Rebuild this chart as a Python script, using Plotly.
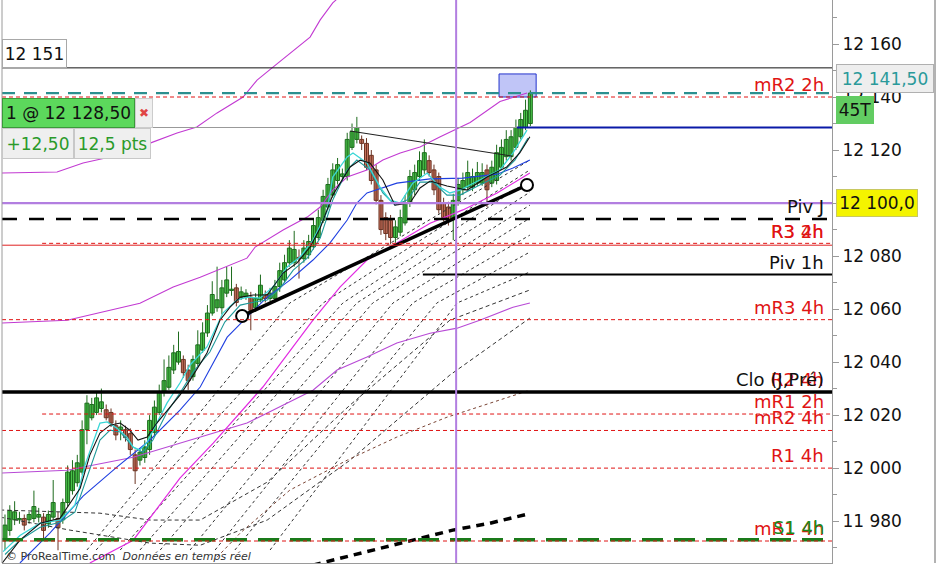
import plotly.graph_objects as go

# ---- candles (one per bar) ----
opens = [11973, 11976.5, 11980.5, 11980.5, 11981, 11980.5, 11981, 11981.5, 11981.5, 11979,
         11981.5, 11981, 11980.5, 11987, 11991.5, 11994.5, 11998.5, 12014.5, 12019, 12021,
         12022.5, 12022, 12021, 12016, 12014.5, 12014.5, 12013, 12005, 12003, 12004,
         12007, 12013.5, 12021, 12028.5, 12030.5, 12037, 12040, 12041, 12037, 12034.5,
         12039.5, 12044.5, 12051, 12058.5, 12060.5, 12060.5, 12066, 12067, 12068, 12064.5,
         12064.5, 12064.5, 12060.5, 12063.5, 12065.5, 12064, 12064, 12068.5, 12071, 12077.5,
         12077.5, 12079.5, 12079, 12080.5, 12083.5, 12087, 12093.5, 12098.5, 12103, 12108.5,
         12110, 12110, 12121, 12124, 12124, 12122.5, 12118, 12112.5, 12101, 12094.5,
         12093.5, 12087, 12089, 12092.5, 12100, 12105, 12110, 12112.5, 12116, 12112.5,
         12110, 12100, 12098.5, 12094.5, 12101, 12105, 12106, 12106, 12107.5, 12107.5,
         12112.5, 12107.5, 12108.5, 12113.5, 12117.5, 12117.5, 12121, 12125, 12128.5, 12130]
highs = [11982.5, 11986, 11987.5, 11983.5, 11982.5, 11983.5, 11991.5, 11985, 11983, 11984,
         11995.5, 11983.5, 11988.5, 12001, 12003, 12005, 12018, 12027.5, 12026.5, 12028.5,
         12030, 12024, 12022.5, 12018, 12018, 12016, 12015, 12007, 12007.5, 12010.5,
         12020, 12025.5, 12031.5, 12041, 12042.5, 12046.5, 12051.5, 12042.5, 12039, 12042.5,
         12052, 12055, 12061.5, 12070.5, 12076, 12071, 12076, 12076, 12069.5, 12068.5,
         12067.5, 12066.5, 12066, 12073, 12067, 12068, 12071, 12077.5, 12080.5, 12086,
         12089.5, 12082.5, 12086, 12088, 12094, 12097.5, 12105, 12109.5, 12115, 12117,
         12113, 12126.5, 12130, 12132.5, 12125.5, 12124.5, 12120, 12114.5, 12103, 12096.5,
         12095.5, 12093.5, 12097.5, 12103, 12112.5, 12114.5, 12119.5, 12124, 12118, 12114.5,
         12111.5, 12102, 12100.5, 12103.5, 12109.5, 12111.5, 12116, 12113, 12115.5, 12115,
         12114.5, 12116, 12122, 12124, 12127.5, 12127.5, 12131.5, 12134, 12139, 12142.5]
lows = [11969, 11974.5, 11978.5, 11979, 11976.5, 11979, 11979.5, 11979.5, 11973, 11977.5,
        11980.5, 11969, 11979, 11985.5, 11990, 11993, 11997.5, 12009, 12018, 12020,
        12021, 12018, 12015.5, 12010.5, 12010.5, 12010, 12005, 11994, 12001, 12002,
        12005, 12012, 12020, 12027, 12029.5, 12035.5, 12039, 12034, 12029.5, 12033,
        12038.5, 12043.5, 12049.5, 12057.5, 12059, 12058, 12064.5, 12065, 12061, 12063.5,
        12063.5, 12052, 12059, 12062.5, 12062.5, 12063, 12062.5, 12066.5, 12070, 12076,
        12076, 12071.5, 12077.5, 12079, 12082.5, 12086, 12092.5, 12097.5, 12102, 12107,
        12108, 12108.5, 12120, 12122.5, 12120, 12112.5, 12107, 12099.5, 12088, 12086,
        12084.5, 12085, 12087.5, 12091.5, 12098.5, 12103, 12108.5, 12111, 12110, 12103,
        12096, 12093, 12091.5, 12086, 12099, 12103, 12105, 12104.5, 12106.5, 12106.5,
        12098.5, 12106, 12107, 12112.5, 12116, 12116, 12120, 12124, 12127.5, 12129]
closes = [11978.5, 11984, 11983.5, 11981, 11978.5, 11982.5, 11985.5, 11982.5, 11976.5, 11982.5,
          11987, 11977.5, 11987, 11998.5, 11999, 12002, 12014.5, 12024.5, 12024, 12026.5,
          12025, 12019, 12017, 12012.5, 12015.5, 12011.5, 12007, 11999, 12006, 12008,
          12018, 12023, 12028.5, 12033, 12038, 12043.5, 12044, 12036, 12033, 12041,
          12046.5, 12051, 12058.5, 12065.5, 12063.5, 12068, 12071, 12067.5, 12062.5, 12066.5,
          12066, 12059.5, 12064, 12069, 12064, 12066, 12068.5, 12074.5, 12077.5, 12083,
          12082.5, 12079, 12083, 12085.5, 12091.5, 12094.5, 12102.5, 12107, 12112.5, 12114.5,
          12111, 12124, 12127, 12128.5, 12122.5, 12113.5, 12108.5, 12101, 12090, 12088.5,
          12087, 12091, 12094.5, 12100, 12110, 12111.5, 12116, 12119, 12111.5, 12105,
          12097.5, 12094.5, 12093.5, 12101, 12107, 12108.5, 12111.5, 12110, 12111.5, 12111.5,
          12105, 12113.5, 12119, 12121, 12124, 12125, 12128.5, 12131.5, 12135, 12141.5]
bars = list(range(len(closes)))

# ---- indicator curves as (bar, price) ----
band_top_x = [-1.0, 10.8, 16.2, 21.8, 30.1, 35.7, 39.8, 44.0, 49.4, 52.3, 55.6, 59.1, 63.3, 65.4, 68.0, 71.0]
band_top_y = [12111.3, 12111.7, 12115.1, 12117.4, 12122.6, 12126.4, 12128.7, 12134, 12140, 12146.4,
              12151.3, 12156.6, 12162.6, 12169.1, 12175.5, 12180.5]
band_mid_x = [-1.0, 12.9, 28.0, 34.9, 40.5, 45.2, 50.2, 51.9, 57.7, 62.7, 65.4, 68.0, 71.0, 75.1,
              78.4, 82.0, 86.1, 90.2, 96.5, 102.7, 108.3]
band_mid_y = [12054.7, 12055.8, 12062.2, 12068.3, 12072, 12075.5, 12079.2, 12083.4, 12089.8, 12094.7,
              12098.5, 12104.9, 12109.8, 12112.5, 12116.2, 12118.9, 12121.1, 12124.9, 12130.4, 12138.3, 12141.5]
band_low_x = [-1.0, 12.9, 26.6, 36.3, 50.2, 63.9, 68.9, 75.1, 81.3, 88.2, 93.8, 98.5, 105.4, 108.9]
band_low_y = [11998.1, 11999.2, 12004.1, 12009.4, 12017, 12029.4, 12037, 12041.9, 12047.2, 12050.9,
              12052.8, 12055.8, 12060.7, 12062.3]
magenta_x = [17.6, 26.6, 36.3, 43.2, 53.5, 63.9, 69.5, 75.1, 81.3, 88.2, 95.0, 102.1, 108.9]
magenta_y = [11964.2, 11972.8, 11996.2, 12009.4, 12030.6, 12055.8, 12068.3, 12078.5, 12084.9, 12092.4,
             12097.4, 12103.8, 12111.3]
blue_x = [3.1, 9.3, 16.2, 23.2, 30.1, 36.3, 40.5, 46.1, 50.2, 54.4, 59.1, 63.9, 67.4, 71.0, 73.0,
          75.1, 81.3, 88.2, 95.0, 102.1, 105.4, 108.9]
blue_y = [11964.2, 11975.5, 11989.4, 12000.4, 12010.6, 12021.9, 12030.6, 12049.4, 12057, 12064.5,
          12070.9, 12078.5, 12084.9, 12093.6, 12100, 12103.8, 12107.5, 12109.1, 12109.4, 12110.9,
          12113.2, 12116.2]
black_ma_x = [-1.0, 3.1, 7.3, 11.4, 15.6, 17.6, 19.7, 21.8, 23.9, 25.9, 27.6, 29.5, 31.5, 34.2, 36.3,
              38.4, 41.9, 44.6, 46.7, 48.8, 51.5, 54.4, 55.6, 57.7, 60.6, 63.3, 65.4, 68.0, 71.6, 73.7,
              75.7, 78.4, 80.9, 84.0, 86.1, 88.2, 91.7, 95.9, 100.0, 104.1, 106.8, 108.9]
black_ma_y = [11963.2, 11972.8, 11979.2, 11981.1, 11992.4, 12004.9, 12013.2, 12016.2, 12017, 12014.3,
              12010.6, 12011.7, 12017, 12023, 12027.5, 12033.2, 12043.4, 12055.8, 12060.7, 12064.5,
              12065.3, 12065.3, 12068.3, 12073.6, 12077.4, 12083.4, 12090.6, 12103, 12113.6, 12116.2,
              12115.1, 12108.7, 12099.2, 12100, 12105.7, 12108.3, 12106.4, 12104.9, 12109.8, 12113.6,
              12118.9, 12125]
cyan_x = [-0.4, 3.1, 7.3, 11.4, 14.5, 16.6, 19.7, 21.2, 23.2, 25.3, 26.6, 28.0, 29.5, 31.5, 33.6,
          36.3, 38.4, 41.9, 45.2, 48.1, 50.2, 52.9, 55.6, 58.5, 61.2, 63.9, 66.8, 68.0, 71.0, 72.2,
          75.1, 77.8, 79.9, 82.0, 84.6, 87.6, 90.2, 92.3, 94.4, 98.5, 102.7, 105.4, 108.3]
cyan_y = [11968.5, 11974.6, 11979.2, 11980.4, 11986, 12001.1, 12017, 12017.4, 12015.1, 12011.7,
          12007.9, 12006.8, 12009.8, 12017, 12024.5, 12032.1, 12038.9, 12045.7, 12058.5, 12063.4,
          12064.5, 12064.1, 12068.3, 12075.8, 12079.6, 12086, 12096.6, 12109.8, 12117.4, 12118.9,
          12115.1, 12106, 12101.1, 12100, 12107.5, 12111.3, 12106, 12103.8, 12104.9, 12108.7,
          12112.5, 12118.9, 12127.5]
teal_x = [0.0, 3.1, 7.3, 11.4, 14.5, 17.0, 19.7, 21.8, 23.9, 26.6, 28.6, 30.7, 33.6, 36.3, 39.0,
          42.5, 45.6, 48.8, 51.5, 54.4, 57.1, 59.8, 62.7, 65.4, 68.0, 71.0, 73.0, 75.7, 78.4, 80.9,
          83.4, 86.1, 88.8, 91.7, 94.4, 98.5, 102.7, 105.8, 108.5]
teal_y = [11967.4, 11972.8, 11977.7, 11979.6, 11983.4, 11996.2, 12010.6, 12014.3, 12013.6, 12007.9,
          12006, 12010.6, 12021.1, 12028.3, 12036.2, 12043.8, 12055.1, 12061.5, 12062.6, 12063.4,
          12067.9, 12074.7, 12079.2, 12086.8, 12101.1, 12112.5, 12116.2, 12112.5, 12103.8, 12099.2,
          12101.1, 12107.9, 12107.9, 12103, 12103, 12106.8, 12110.6, 12116.2, 12124.5]

# dotted fan of slow averages: start, middle, end
fan_x = [[17.0, 59.1, 108.9], [18.9, 66.0, 108.9], [23.9, 70.1, 108.9], [28.0, 73.0, 108.9],
         [32.2, 76.3, 108.9], [38.4, 80.5, 108.9], [43.6, 84.6, 108.9], [47.7, 89.6, 108.9],
         [55.0, 93.8, 108.9]]
fan_y = [[11969.1, 12062.3, 12116.2], [11969.1, 12062.3, 12112.5], [11969.1, 12062.3, 12108.7],
         [11969.1, 12062.3, 12104.1], [11969.1, 12062.3, 12099.2], [11969.1, 12062.3, 12094.3],
         [11969.1, 12062.3, 12087.9], [11969.1, 12062.3, 12081.5], [11969.1, 12062.3, 12074.0]]
curve_u1_x = [-1.0, 19.7, 30.1, 40.5, 54.4, 71.6, 92.3, 108.9]
curve_u1_y = [11984.2, 11983, 11980.4, 11980.4, 11994.7, 12023.8, 12055.8, 12067.2]
curve_u2_x = [-1.0, 13.5, 30.1, 40.5, 54.4, 71.6, 92.3, 108.9]
curve_u2_y = [11981.5, 11976.6, 11971.7, 11970.9, 11980.4, 12003, 12035.1, 12056.6]
brown_x = [44.0, 48.8, 59.1, 71.0, 81.3, 91.7, 108.9]
brown_y = [11966.4, 11975.5, 11991.7, 12003, 12011.7, 12019.2, 12029.4]
slow_x = [63.9, 84.6, 92.9, 100.6, 108.3]
slow_y = [11963.4, 11972.8, 11976.6, 11979.2, 11982.6]

# drawn objects
trend_x = [49.2, 108.3]
trend_y = [12057.4, 12106.8]
top_line_x = [71.6, 105.2]
top_line_y = [12127.2, 12117.7]
box_x = [102.5, 110.2]
box_y = [12140, 12148.7]
cursor_bar = 93.6

# price levels
level_151 = 12151
last_price = 12141.5
order_price = 12128.5
round_level = 12100
order_split_bar = 106.2
short_start_bar = 7.7
piv1h_start_bar = 86.7

label_texts = ["mR2 2h", "Piv J", "R3 4h", "R3 2h", "Piv 1h", "mR3 4h", "R2 4h", "Clo (J,Pré)",
               "mR1 2h", "mR2 4h", "R1 4h", "mR1 4h", "S1 4h"]
label_prices = [12140, 12094, 12084.5, 12084.5, 12073, 12056, 12028.7, 12028.7,
                12020.4, 12014.2, 12000, 11972.5, 11973]

tick_vals = [11980, 12000, 12020, 12040, 12060, 12080, 12100, 12120, 12140, 12160]
tick_text = ["11 980", "12 000", "12 020", "12 040", "12 060", "12 080", "12 100", "12 120", "12 140", "12 160"]
minor_vals = [11970, 11990, 12010, 12030, 12050, 12070, 12090, 12110, 12130, 12150, 12170]

X_MIN, X_MAX = -0.62, 171.58
Y_MIN, Y_MAX = 11964.2, 12176.6
FONT = "DejaVu Sans"
RED = "#e01414"
UP_FILL, UP_EDGE = "#4cc64c", "#1d6b1d"
DN_FILL, DN_EDGE = "#c8735f", "#6b3322"

fig = go.Figure()

# candle wicks, one trace per colour
for want_up, edge in ((True, UP_EDGE), (False, DN_EDGE)):
    wx, wy = [], []
    for i, o, h, l, c in zip(bars, opens, highs, lows, closes):
        if (c >= o) == want_up:
            wx += [i, i, None]
            wy += [l, h, None]
    fig.add_trace(go.Scatter(x=wx, y=wy, mode="lines", showlegend=False, hoverinfo="skip",
                             line=dict(color=edge, width=1)))

# candle bodies
is_up = [c >= o for o, c in zip(opens, closes)]
fig.add_trace(go.Bar(
    x=bars,
    base=[min(o, c) for o, c in zip(opens, closes)],
    y=[max(abs(c - o), 0.5) for o, c in zip(opens, closes)],
    width=0.82,
    marker=dict(color=[UP_FILL if u else DN_FILL for u in is_up],
                line=dict(color=[UP_EDGE if u else DN_EDGE for u in is_up], width=1)),
    showlegend=False, hoverinfo="skip",
))


def curve(xs, ys, color, width=1.0, dash="solid"):
    fig.add_trace(go.Scatter(x=xs, y=ys, mode="lines", showlegend=False, hoverinfo="skip",
                             line=dict(color=color, width=width, dash=dash)))


for fx, fy in zip(fan_x, fan_y):
    curve(fx, fy, "#333333", 1, "3px,3px")
curve(curve_u1_x, curve_u1_y, "#333333", 1, "4px,3px")
curve(curve_u2_x, curve_u2_y, "#333333", 1, "4px,3px")
curve(brown_x, brown_y, "#7a4434", 1, "3px,3px")
curve(slow_x, slow_y, "#000000", 3.5, "8px,6px")
curve(band_top_x, band_top_y, "#c23ad2", 1.1)
curve(band_mid_x, band_mid_y, "#c23ad2", 1.1)
curve(band_low_x, band_low_y, "#b84ad6", 1.1)
curve(magenta_x, magenta_y, "#e22ae2", 1.2)
curve(blue_x, blue_y, "#1f3fe0", 1.1)
curve(teal_x, teal_y, "#1f9a9a", 1.1)
curve(cyan_x, cyan_y, "#3ad6d6", 1.3)
curve(black_ma_x, black_ma_y, "#111111", 1.1)
curve(top_line_x, top_line_y, "#222222", 1.1)

fig.add_trace(go.Scatter(
    x=trend_x, y=trend_y, mode="lines+markers", showlegend=False, hoverinfo="skip",
    line=dict(color="#000000", width=3.5),
    marker=dict(size=12, color="white", line=dict(color="#000000", width=2)),
))

shapes = []


def hline(price, color, width=1.0, dash="solid", x0=X_MIN, x1=X_MAX):
    shapes.append(dict(type="line", xref="x", yref="y", x0=x0, x1=x1, y0=price, y1=price,
                       line=dict(color=color, width=width, dash=dash), layer="above"))


hline(level_151, "#111111", 1)
hline(last_price, "#2b8f8f", 2.2, "13px,9px")
hline(label_prices[0], RED, 1, "4px,3px")
hline(order_price, "#999999", 1, x1=order_split_bar)
hline(order_price, "#0a1aa8", 2, x0=order_split_bar)
hline(round_level, "#b27ee0", 2.2)
hline(label_prices[1], "#000000", 2.5, "15px,12px")
hline(label_prices[2] - 0.4, "#e02020", 1)
hline(label_prices[3] + 0.3, RED, 1, "4px,3px", x0=short_start_bar)
hline(label_prices[4], "#000000", 2, x0=piv1h_start_bar)
hline(label_prices[5], RED, 1, "4px,3px")
hline(label_prices[7], "#000000", 3.5)
hline(label_prices[8], RED, 1, "4px,3px", x0=short_start_bar)
hline(label_prices[9], RED, 1, "4px,3px")
hline(label_prices[10], RED, 1, "4px,3px")
hline(label_prices[12], "#1a7a1a", 3.5, "21px,11px")
hline(label_prices[11], RED, 1, "4px,3px")

# cursor and highlight box
shapes.append(dict(type="line", xref="x", yref="paper", x0=cursor_bar, x1=cursor_bar, y0=0, y1=1,
                   line=dict(color="#b27ee0", width=2), layer="above"))
shapes.append(dict(type="rect", xref="x", yref="y", x0=box_x[0], x1=box_x[1], y0=box_y[0], y1=box_y[1],
                   fillcolor="rgba(140,150,240,0.55)", line=dict(color="#2233cc", width=1), layer="below"))
# left border and far right panel edge
shapes.append(dict(type="line", xref="paper", yref="paper", x0=0, x1=0, y0=0, y1=1,
                   line=dict(color="#9a9a9a", width=1)))
shapes.append(dict(type="line", xref="paper", yref="paper", x0=1.1241, x1=1.1241, y0=0, y1=1,
                   line=dict(color="#666666", width=1)))

annotations = []
label_colors = [RED, "#111111", RED, RED, "#111111", RED, RED, "#111111", RED, RED, RED, RED, "#1a8a1a"]
for text, price, color in zip(label_texts, label_prices, label_colors):
    annotations.append(dict(text=text, xref="paper", yref="y", x=0.9928, y=price,
                            xanchor="right", yanchor="bottom", showarrow=False,
                            font=dict(family=FONT, size=18, color=color)))


def box(text, x, y, yanchor, w, h, bg, border, color, size=17, xanchor="left", yref="y"):
    annotations.append(dict(text=text, xref="paper", yref=yref, x=x, y=y, xanchor=xanchor,
                            yanchor=yanchor, showarrow=False, width=w, height=h, align="center",
                            valign="middle", bgcolor=bg, bordercolor=border, borderwidth=1,
                            borderpad=0, font=dict(family=FONT, size=size, color=color)))


box("12 151", 0.0, level_151, "bottom", 63, 27, "white", "#a8a8a8", "#111111")
box("1 @ 12 128,50", 0.0, order_price, "bottom", 131, 28, "#5cd85c", "#3a9a3a", "#111111")
box("✖", 0.1602, order_price, "bottom", 16, 28, "#efefef", "#cccccc", "#e04545", size=12)
box("+12,50", 0.0, order_price, "top", 70, 29, "#efefef", "#c8c8c8", "#2a9a2a")
box("12,5 pts", 0.0867, order_price, "top", 75, 29, "#efefef", "#c8c8c8", "#2a9a2a")
box("12 141,50", 1.0048, last_price, "bottom", 96, 27, "#eeeeee", "#b0b0b0", "#2a9a9a")
box("45T", 1.0048, last_price - 1.1, "top", 36, 26, "#62cc62", "#62cc62", "#111111")
box("12 100,0", 1.0048, round_level, "middle", 80, 26, "#f4f400", "#c8c860", "#111111")

annotations.append(dict(text="© ProRealTime.com  <i>Données en temps réel</i>", xref="paper", yref="paper",
                        x=0.002, y=0.0107, xanchor="left", yanchor="middle", showarrow=False,
                        font=dict(family=FONT, size=11, color="#333333")))

fig.update_layout(
    width=938, height=568,
    margin=dict(l=2, r=106, t=0, b=5),
    paper_bgcolor="white", plot_bgcolor="white",
    showlegend=False,
    shapes=shapes, annotations=annotations,
    xaxis=dict(range=[X_MIN, X_MAX], showgrid=False, zeroline=False, showticklabels=False,
               ticks="", showline=True, linecolor="#9a9a9a"),
    yaxis=dict(range=[Y_MIN, Y_MAX], side="right", showgrid=False, zeroline=False,
               tickmode="array", tickvals=tick_vals, ticktext=tick_text,
               ticks="outside", ticklen=6, tickcolor="#9a9a9a",
               minor=dict(tickvals=minor_vals, ticks="outside", ticklen=4, tickcolor="#9a9a9a"),
               showline=True, linecolor="#9a9a9a",
               tickfont=dict(family=FONT, size=17, color="#111111")),
)

# page body has a default margin; drop it so the figure sits at the window's corner
fig.write_html("out.html", config={"displayModeBar": False},
               post_script="document.body.style.margin='0';")
